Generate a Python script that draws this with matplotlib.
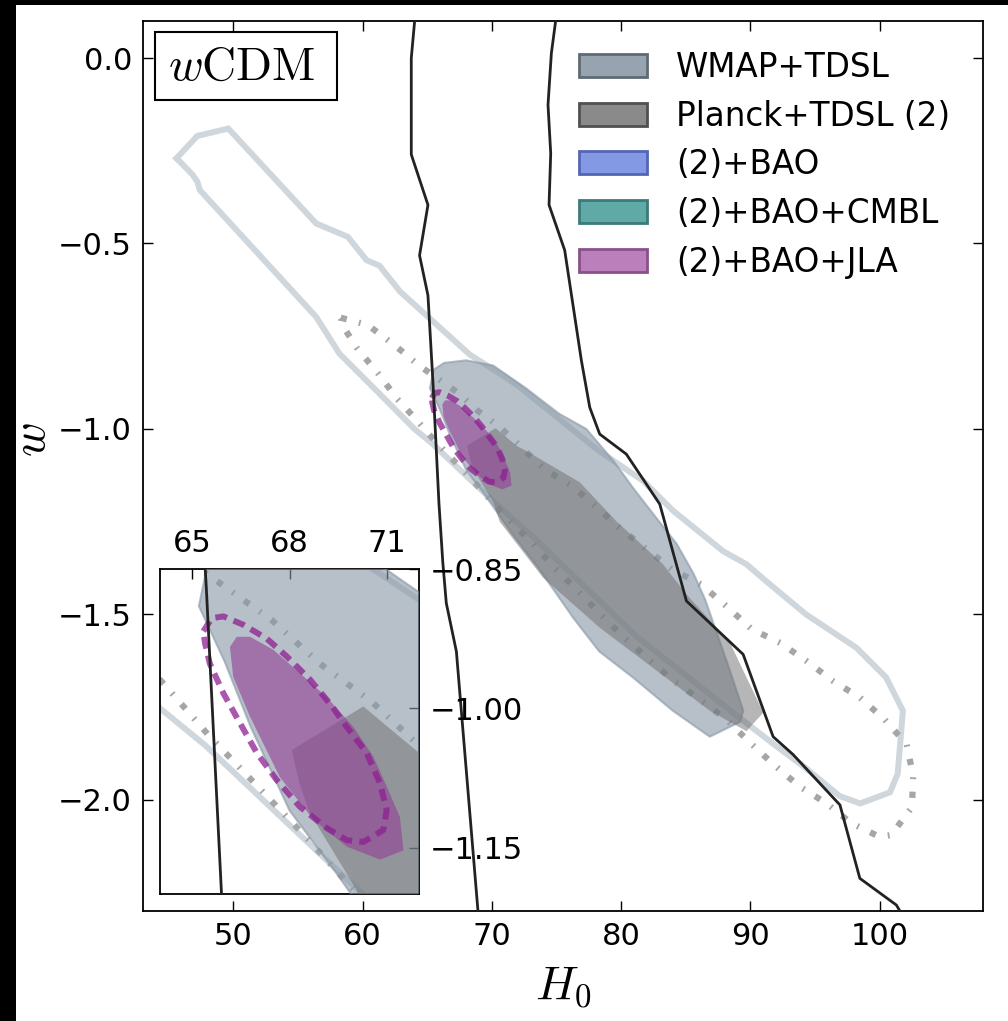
import matplotlib
matplotlib.use("Agg")
import matplotlib.pyplot as plt
from matplotlib.patches import Patch, Rectangle
from matplotlib.ticker import FixedLocator, FuncFormatter

plt.rcParams['mathtext.fontset'] = 'cm'
plt.rcParams['font.family'] = ['DejaVu Sans']

# ---------------- data ----------------
# WMAP+TDSL 95% outline (light line)
wmap95_h0 = [45.6, 47.2, 49.6, 56.4, 58.85, 60.3, 61.3, 62.9, 68.3, 70.7, 72.0, 78.3, 81.7, 84.0,
             87.9, 89.7, 91.2, 94.3, 98.2, 100.5, 101.8, 101.4, 100.8, 98.5, 96.9, 94.3, 91.8,
             89.2, 81.2, 73.15, 70.1, 65.4, 64.0, 61.3, 58.2, 56.4, 47.4, 47.2, 46.85]
wmap95_w = [-0.27, -0.21, -0.19, -0.446, -0.482, -0.545, -0.56, -0.63, -0.80, -0.853, -0.883, -1.06,
            -1.14, -1.22, -1.33, -1.365, -1.41, -1.50, -1.59, -1.67, -1.76, -1.93, -1.98, -2.01,
            -1.99, -1.915, -1.85, -1.78, -1.56, -1.29, -1.195, -1.04, -1.0, -0.905, -0.797, -0.698,
            -0.356, -0.333, -0.315]

# Planck+TDSL (2) 95% outline (dash-dot)
planck95_h0 = [58.3, 60.4, 62.5, 64.4, 65.8, 67.45, 68.94, 70.54, 72.15, 74.1, 76.25, 78.2, 80.0,
               82.0, 83.9, 86.2, 88.15, 90.1, 92.3, 94.35, 96.4, 98.5, 100.4, 102.1, 102.6, 102.5,
               100.9, 100.0, 97.8, 95.9, 93.8, 91.8, 90.0, 88.15, 86.1, 84.0, 82.1, 80.15, 78.3,
               76.4, 74.6, 73.2, 71.25, 69.66, 68.3, 66.93, 65.5, 64.15, 62.7, 61.2, 59.6, 58.6]
planck95_w = [-0.70, -0.72, -0.775, -0.83, -0.864, -0.905, -0.952, -0.993, -1.045, -1.11, -1.155,
              -1.215, -1.27, -1.325, -1.378, -1.42, -1.478, -1.54, -1.577, -1.626, -1.68, -1.725,
              -1.784, -1.851, -1.937, -2.02, -2.095, -2.10, -2.063, -2.01, -1.964, -1.905, -1.847,
              -1.784, -1.73, -1.678, -1.62, -1.56, -1.496, -1.428, -1.365, -1.31, -1.243, -1.183,
              -1.131, -1.081, -1.029, -0.975, -0.92, -0.851, -0.784, -0.73]

# WMAP+TDSL 68% filled region
wmap68_h0 = [65.5, 66.3, 68.0, 70.1, 72.7, 75.2, 77.3, 79.4, 80.9, 82.5, 84.3, 85.6, 86.5, 86.9,
             88.3, 89.45, 89.2, 86.86, 84.0, 80.9, 78.3, 76.3, 73.7, 71.5, 69.5, 68.0, 66.8, 66.0,
             65.2]
wmap68_w = [-0.84, -0.822, -0.815, -0.829, -0.892, -0.959, -1.0, -1.086, -1.158, -1.23, -1.31,
            -1.39, -1.46, -1.50, -1.64, -1.76, -1.79, -1.83, -1.76, -1.67, -1.60, -1.51, -1.38,
            -1.28, -1.18, -1.11, -1.02, -0.95, -0.89]

# Planck+TDSL (2) 68% filled region
planck68_h0 = [68.07, 70.28, 71.93, 72.7, 76.8, 79.6, 83.24, 85.05, 88.4, 91.0, 89.7, 86.86, 78.34,
               73.95, 70.6, 70.08, 68.63, 68.3]
planck68_w = [-1.045, -0.998, -1.046, -1.06, -1.144, -1.248, -1.365, -1.446, -1.575, -1.765, -1.815,
              -1.76, -1.536, -1.401, -1.25, -1.196, -1.113, -1.08]

# (2)+BAO+JLA 68% filled region
jla68_h0 = [66.37, 66.78, 67.5, 68.22, 69.15, 69.97, 70.59, 71.0, 71.41, 71.52, 70.8, 69.77, 68.74,
            67.7, 66.78, 66.26, 66.16]
jla68_w = [-0.923, -0.923, -0.937, -0.959, -0.988, -1.02, -1.052, -1.084, -1.117, -1.153, -1.163,
           -1.149, -1.12, -1.074, -1.009, -0.966, -0.934]

# (2)+BAO+JLA 95% outline (dashed)
jla95_h0 = [65.34, 65.6, 65.96, 66.57, 67.3, 67.91, 68.63, 69.25, 69.77, 70.38, 70.8, 71.0, 70.9,
            70.28, 69.77, 69.15, 68.32, 67.6, 66.99, 66.47, 65.96, 65.54, 65.39]
jla95_w = [-0.917, -0.903, -0.901, -0.910, -0.925, -0.944, -0.969, -0.995, -1.02, -1.048, -1.081,
           -1.11, -1.131, -1.144, -1.142, -1.129, -1.106, -1.077, -1.048, -1.016, -0.984, -0.952,
           -0.93]

# black lines
left_line_h0 = [64.02, 63.76, 63.76, 65.05, 64.4, 65.05, 65.43, 65.9, 66.2, 66.47, 67.25, 68.92]
left_line_w = [0.1, 0.0, -0.26, -0.396, -0.532, -0.64, -0.87, -1.2, -1.36, -1.47, -1.6, -2.3]
right_line_h0 = [74.93, 74.6, 74.34, 74.55, 74.42, 75.63, 76.92, 77.57, 78.34, 80.4, 82.99, 85.05,
                 89.44, 91.76, 93.3, 96.93, 98.47, 101.3, 101.57]
right_line_w = [0.1, 0.013, -0.126, -0.257, -0.396, -0.518, -0.815, -0.942, -1.014, -1.068, -1.203,
                -1.464, -1.608, -1.83, -1.878, -2.014, -2.212, -2.284, -2.3]

legend_labels = ['WMAP+TDSL', 'Planck+TDSL (2)', '(2)+BAO', '(2)+BAO+CMBL', '(2)+BAO+JLA']
legend_faces = ['#97a4af', '#8a8a8a', '#8399e4', '#5fa9a6', '#bb80bb']
legend_edges = ['#5f6a73', '#505050', '#5565b5', '#3a7a78', '#8a508a']

main_xticks = [50, 60, 70, 80, 90, 100]
main_yticks = [0.0, -0.5, -1.0, -1.5, -2.0]
inset_xticks = [65, 68, 71]
inset_yticks = [-0.85, -1.00, -1.15]


def closed(a):
    return list(a) + [a[0]]


def fmt(decimals):
    def f(v, pos):
        return ('%.*f' % (decimals, v)).replace('-', '\u2212')
    return FuncFormatter(f)


def draw_all(ax):
    ax.plot(closed(wmap95_h0), closed(wmap95_w), color='#cfd6dc', lw=4.3,
            solid_joinstyle='miter', zorder=1)
    ax.plot(closed(planck95_h0), closed(planck95_w), color='#a6a6a6', lw=4.5,
            dashes=(1.0, 2.0, 0.3, 2.0), dash_capstyle='butt', zorder=2)
    ax.fill(wmap68_h0, wmap68_w, facecolor='#8797a5', edgecolor='#8797a5', lw=1.5,
            alpha=0.6, zorder=3)
    ax.fill(planck68_h0, planck68_w, facecolor='#6e6e6e', edgecolor='none',
            alpha=0.5, zorder=4)
    ax.fill(jla68_h0, jla68_w, facecolor='#913f95', edgecolor='none', alpha=0.6, zorder=5)
    ax.plot(closed(jla95_h0), closed(jla95_w), color='#8e1f92', lw=4.3, alpha=0.75,
            dashes=(2.0, 1.2), zorder=6)
    ax.plot(left_line_h0, left_line_w, color='#222222', lw=2.0, zorder=7)
    ax.plot(right_line_h0, right_line_w, color='#222222', lw=2.0, zorder=7)


W, H = 1008, 1021
fig = plt.figure(figsize=(W / 100, H / 100), dpi=100)
fig.patch.set_facecolor('white')

ax = fig.add_axes([143 / W, 1 - 911 / H, 840 / W, 890 / H])
draw_all(ax)
ax.set_xlim(43, 108)
ax.set_ylim(-2.3, 0.1)
ax.xaxis.set_major_locator(FixedLocator(main_xticks))
ax.yaxis.set_major_locator(FixedLocator(main_yticks))
ax.yaxis.set_major_formatter(fmt(1))
ax.tick_params(direction='in', length=7, width=1, top=True, right=True,
               labelsize=22, pad=8)
for s in ax.spines.values():
    s.set_linewidth(1.3)
ax.set_xlabel(r'$H_0$', fontsize=34, labelpad=9)
ax.set_ylabel(r'$w$', fontsize=34)
ax.yaxis.set_label_coords(-0.105, 0.53)

handles = [Patch(facecolor=f, edgecolor=e, lw=2) for f, e in zip(legend_faces, legend_edges)]
ax.legend(handles, legend_labels, loc='upper right', bbox_to_anchor=(1.0, 1.0 + 3 / 890),
          frameon=False, fontsize=23.5,
          handlelength=2.09, handleheight=0.7, handletextpad=0.89, labelspacing=0.48,
          borderaxespad=0.61)

ax.add_patch(Rectangle((0.0143, 0.9112), 0.2163, 0.0764, transform=ax.transAxes,
                       facecolor='white', edgecolor='black', lw=1.5, zorder=10))
ax.text(0.0298, 0.9337, r'$w\mathrm{CDM}$', transform=ax.transAxes, fontsize=34,
        va='baseline', ha='left', zorder=11)

axin = fig.add_axes([160 / W, 1 - 894 / H, 259 / W, 325 / H])
axin.set_facecolor('white')
draw_all(axin)
axin.set_xlim(64, 72)
axin.set_ylim(-1.2, -0.85)
axin.xaxis.set_major_locator(FixedLocator(inset_xticks))
axin.yaxis.set_major_locator(FixedLocator(inset_yticks))
axin.yaxis.set_major_formatter(fmt(2))
axin.xaxis.tick_top()
axin.yaxis.tick_right()
axin.tick_params(direction='in', length=7, width=1, labelsize=22, pad=8)
for s in axin.spines.values():
    s.set_linewidth(1.3)

fig.add_artist(Rectangle((0, 0), 16 / W, 1, transform=fig.transFigure,
                         facecolor='black', edgecolor='none', zorder=20))
fig.add_artist(Rectangle((0, 1 - 5 / H), 1, 5 / H, transform=fig.transFigure,
                         facecolor='black', edgecolor='none', zorder=20))

fig.savefig('out.png', dpi=100, facecolor='white')
